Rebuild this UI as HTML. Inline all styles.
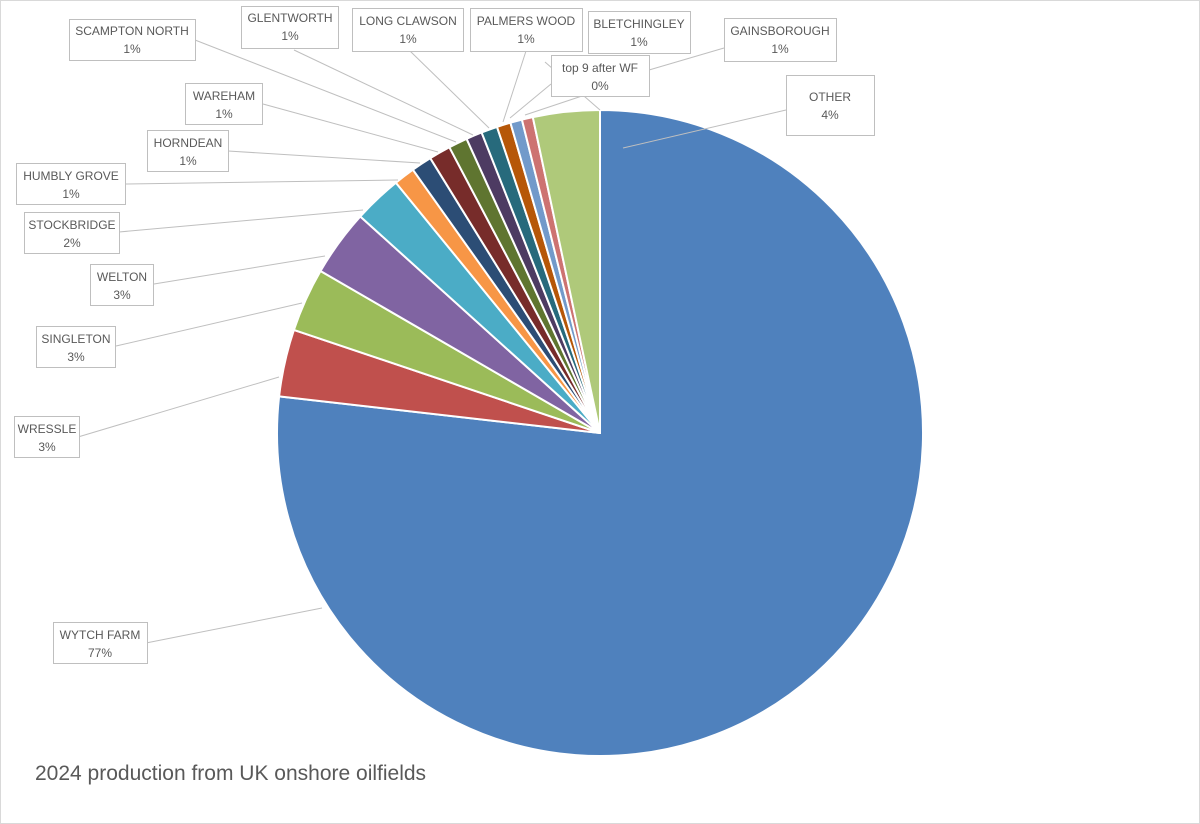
<!DOCTYPE html>
<html><head><meta charset="utf-8"><style>
html,body{margin:0;padding:0;background:#fff}
svg{display:block}
text{font-family:"Liberation Sans",sans-serif;fill:#595959}
</style></head><body>
<svg width="1200" height="824" viewBox="0 0 1200 824" xmlns="http://www.w3.org/2000/svg">
<rect x="0.5" y="0.5" width="1199" height="823" fill="#fff" stroke="#d9d9d9"/>
<g stroke="#fff" stroke-width="2" stroke-linejoin="round">
<path d="M600,433 L600,110 A323,323 0 1 1 279.1,396.4 Z" fill="#4f81bd"/>
<path d="M600,433 L279.1,396.4 A323,323 0 0 1 293.9,329.9 Z" fill="#c0504d"/>
<path d="M600,433 L293.9,329.9 A323,323 0 0 1 320.5,271.0 Z" fill="#9bbb59"/>
<path d="M600,433 L320.5,271.0 A323,323 0 0 1 360.3,216.5 Z" fill="#8064a2"/>
<path d="M600,433 L360.3,216.5 A323,323 0 0 1 395.9,182.7 Z" fill="#4bacc6"/>
<path d="M600,433 L395.9,182.7 A323,323 0 0 1 412.9,169.7 Z" fill="#f79646"/>
<path d="M600,433 L412.9,169.7 A323,323 0 0 1 430.3,158.2 Z" fill="#2c4d75"/>
<path d="M600,433 L430.3,158.2 A323,323 0 0 1 449.4,147.3 Z" fill="#772c2a"/>
<path d="M600,433 L449.4,147.3 A323,323 0 0 1 466.6,138.8 Z" fill="#5f7530"/>
<path d="M600,433 L466.6,138.8 A323,323 0 0 1 481.6,132.5 Z" fill="#4d3b62"/>
<path d="M600,433 L481.6,132.5 A323,323 0 0 1 497.0,126.9 Z" fill="#276a7c"/>
<path d="M600,433 L497.0,126.9 A323,323 0 0 1 510.4,122.7 Z" fill="#b65708"/>
<path d="M600,433 L510.4,122.7 A323,323 0 0 1 521.9,119.6 Z" fill="#729aca"/>
<path d="M600,433 L521.9,119.6 A323,323 0 0 1 532.8,117.1 Z" fill="#cd7371"/>
<path d="M600,433 L532.8,117.1 A323,323 0 0 1 600,110 Z" fill="#afc97a"/>
</g>
<g stroke="#bfbfbf" stroke-width="1" fill="none">
<line x1="146" y1="643" x2="322" y2="608"/>
<line x1="78" y1="437" x2="279" y2="377"/>
<line x1="116" y1="346" x2="302" y2="303"/>
<line x1="154" y1="284" x2="325" y2="256"/>
<line x1="119" y1="232" x2="363" y2="210"/>
<line x1="125" y1="184" x2="398" y2="180"/>
<line x1="228" y1="151" x2="420" y2="163"/>
<line x1="263" y1="104" x2="438" y2="152"/>
<line x1="195" y1="40" x2="456" y2="142"/>
<line x1="294" y1="50" x2="473" y2="135"/>
<line x1="410" y1="51" x2="489" y2="128"/>
<line x1="526" y1="51" x2="503" y2="122"/>
<line x1="545" y1="62" x2="600" y2="110"/>
<line x1="724" y1="48" x2="649" y2="70"/>
<line x1="551" y1="84" x2="510" y2="118"/>
<line x1="582" y1="96" x2="525" y2="115"/>
<line x1="786" y1="110" x2="623" y2="148"/>
</g>
<g fill="#fff" stroke="#bfbfbf" stroke-width="1">
<rect x="69.5" y="19.5" width="126" height="41"/>
<rect x="241.5" y="6.5" width="97" height="42"/>
<rect x="352.5" y="8.5" width="111" height="43"/>
<rect x="470.5" y="8.5" width="112" height="43"/>
<rect x="588.5" y="11.5" width="102" height="42"/>
<rect x="724.5" y="18.5" width="112" height="43"/>
<rect x="551.5" y="55.5" width="98" height="41"/>
<rect x="786.5" y="75.5" width="88" height="60"/>
<rect x="185.5" y="83.5" width="77" height="41"/>
<rect x="147.5" y="130.5" width="81" height="41"/>
<rect x="16.5" y="163.5" width="109" height="41"/>
<rect x="24.5" y="212.5" width="95" height="41"/>
<rect x="90.5" y="264.5" width="63" height="41"/>
<rect x="36.5" y="326.5" width="79" height="41"/>
<rect x="14.5" y="416.5" width="65" height="41"/>
<rect x="53.5" y="622.5" width="94" height="41"/>
</g>
<g font-size="12" text-anchor="middle">
<text x="132" y="35">SCAMPTON NORTH</text><text x="132" y="53">1%</text>
<text x="290" y="22">GLENTWORTH</text><text x="290" y="40">1%</text>
<text x="408" y="25">LONG CLAWSON</text><text x="408" y="43">1%</text>
<text x="526" y="25">PALMERS WOOD</text><text x="526" y="43">1%</text>
<text x="639" y="28">BLETCHINGLEY</text><text x="639" y="46">1%</text>
<text x="780" y="35">GAINSBOROUGH</text><text x="780" y="53">1%</text>
<text x="600" y="72">top 9 after WF</text><text x="600" y="90">0%</text>
<text x="830" y="101">OTHER</text><text x="830" y="119">4%</text>
<text x="224" y="100">WAREHAM</text><text x="224" y="118">1%</text>
<text x="188" y="147">HORNDEAN</text><text x="188" y="165">1%</text>
<text x="71" y="180">HUMBLY GROVE</text><text x="71" y="198">1%</text>
<text x="72" y="229">STOCKBRIDGE</text><text x="72" y="247">2%</text>
<text x="122" y="281">WELTON</text><text x="122" y="299">3%</text>
<text x="76" y="343">SINGLETON</text><text x="76" y="361">3%</text>
<text x="47" y="433">WRESSLE</text><text x="47" y="451">3%</text>
<text x="100" y="639">WYTCH FARM</text><text x="100" y="657">77%</text>
</g>
<text x="35" y="780" font-size="21">2024 production from UK onshore oilfields</text>
</svg>
</body></html>
